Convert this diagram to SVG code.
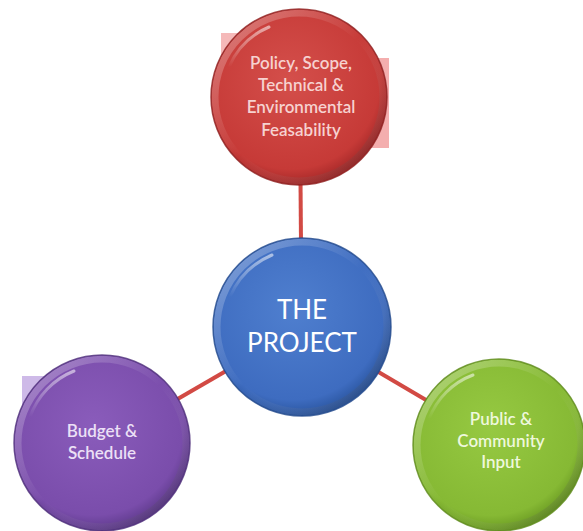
<svg xmlns="http://www.w3.org/2000/svg" width="583" height="531" viewBox="0 0 583 531">
<defs>
<radialGradient id="gRed" cx="45%" cy="40%" r="60%"><stop offset="0" stop-color="#d44f4b"/><stop offset="0.85" stop-color="#c63a37"/><stop offset="1" stop-color="#a52828"/></radialGradient>
<radialGradient id="gBlue" cx="45%" cy="40%" r="60%"><stop offset="0" stop-color="#4f7fcf"/><stop offset="0.85" stop-color="#3e6cc0"/><stop offset="1" stop-color="#2a559f"/></radialGradient>
<radialGradient id="gPurple" cx="45%" cy="40%" r="60%"><stop offset="0" stop-color="#8a5cbb"/><stop offset="0.85" stop-color="#7a4dab"/><stop offset="1" stop-color="#5e3a8c"/></radialGradient>
<radialGradient id="gGreen" cx="45%" cy="40%" r="60%"><stop offset="0" stop-color="#96c942"/><stop offset="0.85" stop-color="#86b934"/><stop offset="1" stop-color="#6a9a22"/></radialGradient>
<linearGradient id="rim" x1="0" y1="0" x2="1" y2="1"><stop offset="0" stop-color="#fff" stop-opacity="0.35"/><stop offset="0.5" stop-color="#fff" stop-opacity="0"/><stop offset="1" stop-color="#000" stop-opacity="0.25"/></linearGradient>
<linearGradient id="gloss" x1="0" y1="0" x2="0" y2="1"><stop offset="0" stop-color="#fff" stop-opacity="0.55"/><stop offset="1" stop-color="#fff" stop-opacity="0"/></linearGradient>
</defs>
<style>
.conn{stroke:#d24a44;stroke-width:4;fill:none}
.rimc{fill:none;stroke:url(#rim);stroke-width:7}
.edge{fill:none;stroke-width:1.5;stroke-opacity:0.8}
.hl{fill:none;stroke:url(#gloss);stroke-width:3;stroke-linecap:round}
.lbl{font-family:Lato,"Open Sans","Liberation Sans",sans-serif;text-anchor:middle}
.sm{font-size:17px;font-weight:600}
.art{stroke:none}
</style>
<rect width="583" height="531" fill="#ffffff"/>
<g id="artifacts">
<rect class="art" x="221" y="33" width="30" height="52" fill="#f2a7a7" opacity="0.8"/>
<rect class="art" x="370" y="58" width="19" height="90" fill="#f2a0a0" opacity="0.85"/>
<rect class="art" x="22" y="376" width="40" height="32" fill="#c9b3e6" opacity="0.9"/>
</g>
<g id="connectors">
<line class="conn" x1="300.5" y1="180" x2="301" y2="245"/>
<line class="conn" x1="302" y1="327" x2="150" y2="415"/>
<line class="conn" x1="302" y1="327" x2="460" y2="420"/>
</g>
<g id="policy" transform="translate(299,97)">
<circle r="88" fill="url(#gRed)"/>
<circle r="84" class="rimc"/>
<circle r="88" class="edge" stroke="#8e2020"/>
<path class="hl" d="M-70,-30 A76,76 0 0 1 -30,-70"/>
<text class="lbl sm" fill="#f6d2d0"><tspan x="2" y="-28">Policy, Scope,</tspan><tspan x="2" y="-6">Technical &amp;</tspan><tspan x="2" y="16">Environmental</tspan><tspan x="2" y="39">Feasability</tspan></text>
</g>
<g id="project" transform="translate(302,327)">
<circle r="89" fill="url(#gBlue)"/>
<circle r="85" class="rimc"/>
<circle r="89" class="edge" stroke="#234a8c"/>
<path class="hl" d="M-72,-30 A78,78 0 0 1 -30,-72"/>
<text class="lbl" fill="#ffffff" font-size="26"><tspan x="0" y="-8">THE</tspan><tspan x="0" y="25">PROJECT</tspan></text>
</g>
<g id="budget" transform="translate(102,443)">
<circle r="88" fill="url(#gPurple)"/>
<circle r="84" class="rimc"/>
<circle r="88" class="edge" stroke="#4f2f7a"/>
<path class="hl" d="M-72,-26 A77,77 0 0 1 -28,-72"/>
<text class="lbl sm" fill="#ece0f6"><tspan x="0" y="-6">Budget &amp;</tspan><tspan x="0" y="16">Schedule</tspan></text>
</g>
<g id="public" transform="translate(499,445)">
<circle r="86" fill="url(#gGreen)"/>
<circle r="82" class="rimc"/>
<circle r="86" class="edge" stroke="#5e8a1c"/>
<path class="hl" d="M-70,-26 A75,75 0 0 1 -26,-70"/>
<text class="lbl sm" fill="#eef8dc"><tspan x="2" y="-20">Public &amp;</tspan><tspan x="2" y="2">Community</tspan><tspan x="2" y="23">Input</tspan></text>
</g>
</svg>
